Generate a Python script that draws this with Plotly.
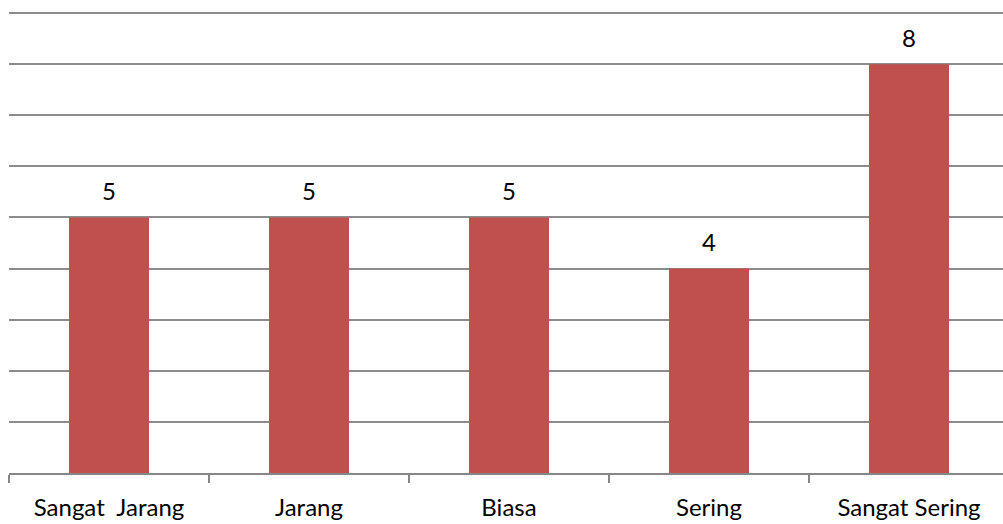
import plotly.graph_objects as go

categories = ["Sangat\u00a0\u00a0Jarang", "Jarang", "Biasa", "Sering", "Sangat Sering"]
values = [5, 5, 5, 4, 8]

FONT = "Lato"

fig = go.Figure()
fig.add_trace(go.Bar(
    x=categories, y=values, width=0.4,
    marker=dict(color="#C0504D", line=dict(width=0)),
    cliponaxis=False,
))
for c, v in zip(categories, values):
    fig.add_annotation(x=c, y=v, text=str(v), showarrow=False,
                       yanchor="middle", yshift=27,
                       font=dict(family=FONT, size=24, color="#000000"))
fig.update_layout(
    width=1003, height=524,
    margin=dict(l=9, r=0, t=12, b=51),
    paper_bgcolor="white", plot_bgcolor="white",
    showlegend=False,
    font=dict(family=FONT, size=24, color="#000000"),
)
fig.update_xaxes(
    range=[-0.5, 4.47], type="category",
    showline=True, linecolor="#868686", linewidth=1.5,
    ticks="outside", tickson="boundaries", ticklen=8, tickcolor="#868686", tickwidth=1.5,
    showgrid=False, ticklabelstandoff=12,
    tickfont=dict(family=FONT, size=24, color="#000000"),
)
fig.update_yaxes(
    range=[0, 9.02], dtick=1, showticklabels=False,
    showgrid=True, gridcolor="#8c8c8c", gridwidth=1.5,
    zeroline=False, showline=False,
)
fig.write_html("out.html")
